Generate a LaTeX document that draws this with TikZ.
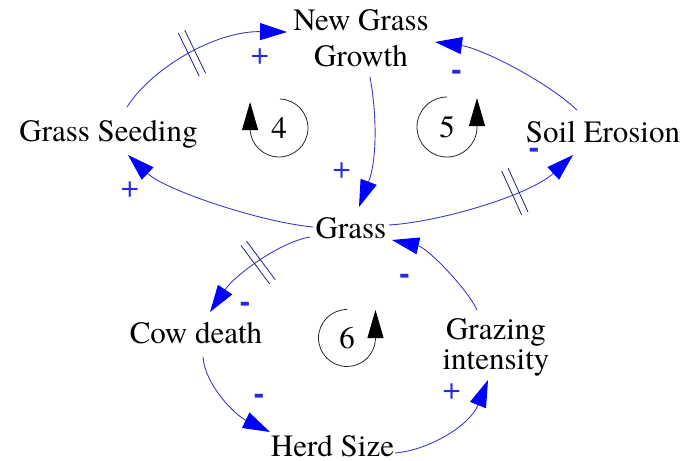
\documentclass[tikz,border=0pt]{standalone}
\usepackage{fontspec}
\setmainfont{TeX Gyre Termes}
\newfontfamily\signsans{Liberation Sans}
\usetikzlibrary{arrows.meta,decorations.markings,calc}
\definecolor{linkblue}{RGB}{60,60,200}
\definecolor{headblue}{RGB}{0,0,255}
\definecolor{delayblue}{RGB}{30,30,140}
\definecolor{signblue}{RGB}{40,40,225}
\tikzset{
  var/.style={inner sep=0pt, anchor=base, font=\fontsize{31}{36}\selectfont},
  link/.style={draw=linkblue, line width=0.9pt,
    -{Triangle[length=27pt,width=17pt,color=headblue]}},
  delayat/.style={postaction={decorate}, decoration={markings,
    mark=at position #1 with {\draw[delayblue, line width=0.8pt, arrows=-]
      (-3.5,-24) -- (-3.5,24) (3.5,-24) -- (3.5,24);}}},
  plussign/.style={text=signblue, inner sep=0pt, font=\fontsize{32}{32}\selectfont},
  minussign/.style={text=signblue, inner sep=0pt, anchor=base,
    font=\signsans\bfseries\fontsize{32}{32}\selectfont},
  loopline/.style={draw=black!85, line width=0.8pt,
    -{Triangle[length=28pt,width=16pt,color=black]}},
  loopnum/.style={inner sep=0pt, font=\fontsize{31}{31}\selectfont},
}
\begin{document}
\begin{tikzpicture}[x=1pt,y=-1pt]
\useasboundingbox (0,0) rectangle (692,460);
% variables
\node[var, anchor=north, align=center] (ngg) at (361,9) {New Grass\\Growth};
\node[var] (gs) at (108.5,141) {Grass Seeding};
\node[var] (se) at (603,142) {Soil Erosion};
\node[var] (gr) at (351,238) {Grass};
\node[var] (cd) at (196,343) {Cow death};
\node[var, anchor=north, align=center, font=\fontsize{31}{30}\selectfont] (gi) at (496,318) {Grazing\\intensity};
\node[var] (hs) at (332.5,456) {Herd Size};
% connectors
\draw[link, delayat=0.465] ($(gs.base)+(18.5,-34)$) .. controls +(25,-39) and +(-72,-1) .. ($(ngg.north)+(-74,23)$);
\draw[link] ($(ngg.north)+(9,68)$) .. controls +(7,38) and +(18,-47) .. ($(gr.base)+(8,-31)$);
\draw[link] ($(se.base)+(-26,-32)$) .. controls +(-32,-30) and +(45,6) .. ($(ngg.north)+(74,33)$);
\draw[link, delayat=0.655] ($(gr.base)+(38,-13)$) .. controls +(51,-3) and +(-43,40) .. ($(se.base)+(-30,13)$);
\draw[link] ($(gr.base)+(-38,-11)$) .. controls +(-53,-5) and +(37,35) .. ($(gs.base)+(19.5,14)$);
\draw[link, delayat=0.457] ($(gr.base)+(-41,-1)$) .. controls +(-30,5) and +(25,-37) .. ($(cd.base)+(14,-31)$);
\draw[link] ($(gi.north)+(-19,-8)$) .. controls +(-9,-20) and +(36,8) .. ($(gr.base)+(41,2)$);
\draw[link] ($(cd.base)+(7,14)$) .. controls +(2,28) and +(-35,-17) .. ($(hs.base)+(-62.5,-24)$);
\draw[link] ($(hs.base)+(62.5,-3)$) .. controls +(35,-3) and +(-18,45) .. ($(gi.north)+(-8,62)$);
% polarity signs
\node[plussign] (p1) at (260,56.7) {+};
\node[plussign] (p2) at (341.7,170.7) {+};
\node[minussign] (m3) at (456.5,80.7) {-};
\node[minussign] (m4) at (534,158.7) {-};
\node[plussign] (p5) at (130,190) {+};
\node[minussign] (m6) at (245,312) {-};
\node[minussign] (m7) at (404.5,284.7) {-};
\node[minussign] (m8) at (259,404.7) {-};
\node[plussign] (p9) at (451.7,391.7) {+};
% loop markers
\node[loopnum] (l4) at (279,128) {4};
\node[loopnum] (l5) at (447,127) {5};
\node[loopnum] (l6) at (347,338) {6};
\draw[loopline] (l4.center) ++(-88:29) arc[start angle=-88, end angle=176, radius=29] -- ++(0,-28);
\draw[loopline] (l5.center) ++(-90:30) arc[start angle=-90, end angle=-358, radius=30] -- ++(0,-30);
\draw[loopline] (l6.center) ++(-90:28.5) arc[start angle=-90, end angle=-358, radius=28.5] -- ++(0,-29);
\end{tikzpicture}
\end{document}
